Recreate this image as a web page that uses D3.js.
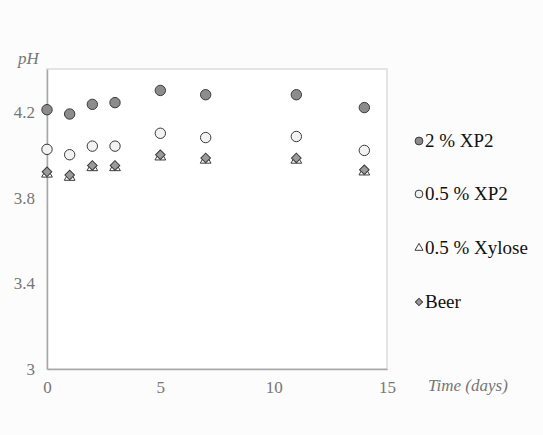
<!DOCTYPE html>
<html>
<head>
<meta charset="utf-8">
<script src="https://cdn.jsdelivr.net/npm/d3@7"></script>
<style>
  html, body { margin: 0; padding: 0; background: #fcfcfc; }
  svg { display: block; }
  svg text { font-family: "Liberation Serif", "Times New Roman", Times, "DejaVu Serif", serif; }
</style>
</head>
<body>
<svg id="chart" width="543" height="435"></svg>
<script>
// pH over fermentation time
const days = [0, 1, 2, 3, 5, 7, 11, 14];
const seriesNames = ["2 % XP2", "0.5 % XP2", "0.5 % Xylose", "Beer"];
const xp2High = [4.21, 4.19, 4.235, 4.243, 4.30, 4.28, 4.28, 4.22];
const xp2Low = [4.025, 4.0, 4.04, 4.04, 4.10, 4.08, 4.085, 4.02];
const xylose = [3.91, 3.895, 3.94, 3.94, 3.99, 3.975, 3.975, 3.92];
const beer = [3.92, 3.905, 3.95, 3.95, 4.0, 3.985, 3.985, 3.93];
const xTicks = [0, 5, 10, 15];
const yTicks = [3, 3.4, 3.8, 4.2];

const svg = d3.select("#chart");
const plot = { left: 47, right: 387, top: 69, bottom: 369 };

const x = d3.scaleLinear().domain([0, 15]).range([plot.left, plot.right]);
const y = d3.scaleLinear().domain([3, 4.4]).range([plot.bottom, plot.top]);

// plot frame: light top/right border, darker axis lines
svg.append("rect")
  .attr("x", plot.left).attr("y", plot.top)
  .attr("width", plot.right - plot.left).attr("height", plot.bottom - plot.top)
  .attr("fill", "#ffffff").attr("stroke", "#dcdcdc").attr("stroke-width", 1.5);

const yAxis = d3.axisLeft(y).tickValues(yTicks).tickSize(0).tickPadding(12)
  .tickFormat(d3.format("~g"));
const gy = svg.append("g").attr("transform", `translate(${plot.left},0)`).call(yAxis);
gy.attr("font-family", null);
gy.select(".domain").attr("stroke", "#a8a8a8").attr("stroke-width", 1.5);
gy.selectAll("text").attr("font-size", 17).attr("fill", "#767676");

const xAxis = d3.axisBottom(x).tickValues(xTicks).tickSize(0).tickPadding(12)
  .tickFormat(d3.format("d"));
const gx = svg.append("g").attr("transform", `translate(0,${plot.bottom})`).call(xAxis);
gx.attr("font-family", null);
gx.select(".domain").attr("stroke", "#a8a8a8").attr("stroke-width", 1.5);
gx.selectAll("text").attr("font-size", 17).attr("fill", "#767676");

// axis titles
svg.append("text").attr("x", 18).attr("y", 64)
  .attr("font-style", "italic").attr("font-size", 17)
  .attr("fill", "#767676").text("pH");
svg.append("text").attr("x", 428).attr("y", 391)
  .attr("font-style", "italic").attr("font-size", 17)
  .attr("fill", "#767676").text("Time (days)");

const stroke = "#3a3a3a";

const series = [
  { name: seriesNames[0], values: xp2High, kind: "circle", fill: "#8c8c8c" },
  { name: seriesNames[1], values: xp2Low, kind: "circle", fill: "#f2f2f2" },
  { name: seriesNames[2], values: xylose, kind: "triangle", fill: "#ffffff" },
  { name: seriesNames[3], values: beer, kind: "diamond", fill: "#9a9a9a" }
];

function drawMarker(g, kind, fill, scale) {
  if (kind === "circle") {
    g.append("circle").attr("r", 5.2 * scale).attr("fill", fill)
      .attr("stroke", stroke).attr("stroke-width", 1);
  } else if (kind === "triangle") {
    g.append("path").attr("d", d3.symbol().type(d3.symbolTriangle).size(50 * scale * scale)())
      .attr("fill", fill).attr("stroke", stroke).attr("stroke-width", 1);
  } else {
    g.append("path").attr("d", d3.symbol().type(d3.symbolSquare).size(46 * scale * scale)())
      .attr("transform", "rotate(45)")
      .attr("fill", fill).attr("stroke", stroke).attr("stroke-width", 1);
  }
}

series.forEach(s => {
  const g = svg.append("g");
  days.forEach((d, i) => {
    const m = g.append("g").attr("transform", `translate(${x(d)},${y(s.values[i])})`);
    drawMarker(m, s.kind, s.fill, 1);
  });
});

// legend
const legendY = [141, 194, 248, 302];
series.forEach((s, i) => {
  const m = svg.append("g").attr("transform", `translate(419,${legendY[i]})`);
  drawMarker(m, s.kind, s.fill, 0.75);
  svg.append("text").attr("x", 425).attr("y", legendY[i] + 6)
    .attr("font-size", 19).attr("fill", "#111")
    .text(s.name);
});
</script>
</body>
</html>
